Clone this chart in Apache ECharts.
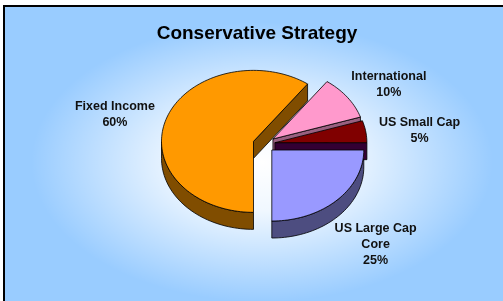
<!DOCTYPE html>
<html>
<head>
<meta charset="utf-8">
<script src="https://cdn.jsdelivr.net/npm/echarts@6/dist/echarts.min.js"></script>
<style>
  html, body { margin: 0; padding: 0; background: #fff; }
  #chart { width: 503px; height: 301px; }
</style>
</head>
<body>
<div id="chart"></div>
<script>
  // slices, in drawing order, starting at 3 o'clock and going clockwise
  const names = ['US Large Cap\nCore', 'Fixed Income', 'International', 'US Small Cap'];
  const values = [25, 60, 10, 5];
  const topColors = ['#9999FF', '#FF9900', '#FF99CC', '#800000'];
  const sideColors = ['#4D4D80', '#804D00', '#996080', '#330033'];

  // layout of the tilted pie
  const cx = 264, cy = 144, rx = 92, ry = 71, depth = 17, explode = 0.12;
  const startAngle = 90;
  const labelK = 1.15, labelDrop = 3, labelFont = 'bold 12.5px "Liberation Sans", Arial, sans-serif', labelLine = 16;

  const total = values.reduce((a, b) => a + b, 0);
  const starts = [];
  let acc = startAngle;
  values.forEach(v => { starts.push(acc); acc += v / total * 360; });

  const measureCtx = document.createElement('canvas').getContext('2d');
  measureCtx.font = labelFont;

  function rad(d) { return d * Math.PI / 180; }

  function slice(i) {
    const a = starts[i];
    const b = a + values[i] / total * 360;
    const mid = (a + b) / 2;
    const ox = Math.sin(rad(mid)) * rx * explode;
    const oy = -Math.cos(rad(mid)) * ry * explode;
    const pt = (deg, k, dy) => [
      cx + ox + Math.sin(rad(deg)) * rx * k,
      cy + oy - Math.cos(rad(deg)) * ry * k + (dy || 0)
    ];
    return { a, b, mid, pt };
  }

  function arc(s, from, to, dy) {
    const pts = [];
    const n = Math.max(2, Math.ceil(Math.abs(to - from) / 2));
    for (let j = 0; j <= n; j++) {
      pts.push(s.pt(from + (to - from) * j / n, 1, dy));
    }
    return pts;
  }

  const edgeStyle = { stroke: '#000', lineWidth: 0.8, lineJoin: 'round' };

  function renderSides(params, api) {
    const i = params.dataIndex;
    const s = slice(i);
    const fill = sideColors[i];
    const children = [];
    // cut walls that face the viewer
    const walls = [];
    if (Math.sin(rad(s.a)) < -1e-6) walls.push(s.a);
    if (Math.sin(rad(s.b)) > 1e-6) walls.push(s.b);
    walls.forEach(w => {
      const p0 = s.pt(w, 0), p1 = s.pt(w, 1);
      children.push({
        type: 'polygon',
        shape: { points: [p0, p1, [p1[0], p1[1] + depth], [p0[0], p0[1] + depth]] },
        style: Object.assign({ fill }, edgeStyle)
      });
    });
    // curved outer side, front half only
    for (let k = -1; k <= 1; k++) {
      const lo = Math.max(s.a, 90 + 360 * k);
      const hi = Math.min(s.b, 270 + 360 * k);
      if (hi > lo) {
        const upper = arc(s, lo, hi, 0);
        const lower = arc(s, hi, lo, depth);
        children.push({
          type: 'polygon',
          shape: { points: upper.concat(lower) },
          style: Object.assign({ fill }, edgeStyle)
        });
      }
    }
    return { type: 'group', children };
  }

  function renderTops(params, api) {
    const i = params.dataIndex;
    const s = slice(i);
    const pts = [s.pt(s.a, 0)].concat(arc(s, s.a, s.b, 0));
    const pct = Math.round(api.value(0) / total * 100);
    const text = names[i] + '\n' + pct + '%';
    const lines = text.split('\n');
    const w = Math.max.apply(null, lines.map(l => measureCtx.measureText(l).width));
    const h = lines.length * labelLine;
    // anchor just outside the rim, box pushed away from the pie
    const anchor = s.pt(s.mid, labelK, Math.cos(rad(s.mid)) < 0 ? depth : 0);
    const lx = anchor[0] + Math.sin(rad(s.mid)) * w / 2;
    const ly = anchor[1] - Math.cos(rad(s.mid)) * h / 2 + labelDrop;
    return {
      type: 'group',
      children: [
        {
          type: 'polygon',
          shape: { points: pts },
          style: Object.assign({ fill: topColors[i] }, edgeStyle)
        },
        {
          type: 'text',
          x: lx, y: ly,
          style: {
            text: text,
            fill: '#111',
            font: labelFont,
            align: 'center',
            verticalAlign: 'middle',
            lineHeight: labelLine
          }
        }
      ]
    };
  }

  const chart = echarts.init(document.getElementById('chart'));
  chart.setOption({
    animation: false,
    graphic: [
      {
        type: 'rect', z: 0, silent: true,
        shape: { x: 4, y: 6, width: 700, height: 500 },
        style: { fill: '#99CCFF', stroke: '#000', lineWidth: 2 }
      },
      {
        type: 'circle', z: 1, silent: true,
        x: 262, y: 162, scaleX: 1.65, scaleY: 1,
        shape: { cx: 0, cy: 0, r: 140 },
        style: {
          fill: {
            type: 'radial', x: 0.5, y: 0.5, r: 0.5,
            colorStops: [
              { offset: 0, color: 'rgba(255,255,255,1)' },
              { offset: 0.35, color: 'rgba(255,255,255,0.85)' },
              { offset: 1, color: 'rgba(255,255,255,0)' }
            ]
          }
        }
      },
      {
        type: 'text', z: 10, x: 257, y: 33.5,
        style: {
          text: 'Conservative Strategy',
          fill: '#000',
          font: 'bold 19px "Liberation Sans", Arial, sans-serif',
          align: 'center',
          verticalAlign: 'middle'
        }
      }
    ],
    series: [
      {
        type: 'custom', coordinateSystem: 'none', z: 3,
        renderItem: renderSides, data: values
      },
      {
        type: 'custom', coordinateSystem: 'none', z: 4,
        renderItem: renderTops, data: values
      }
    ]
  });
</script>
</body>
</html>
